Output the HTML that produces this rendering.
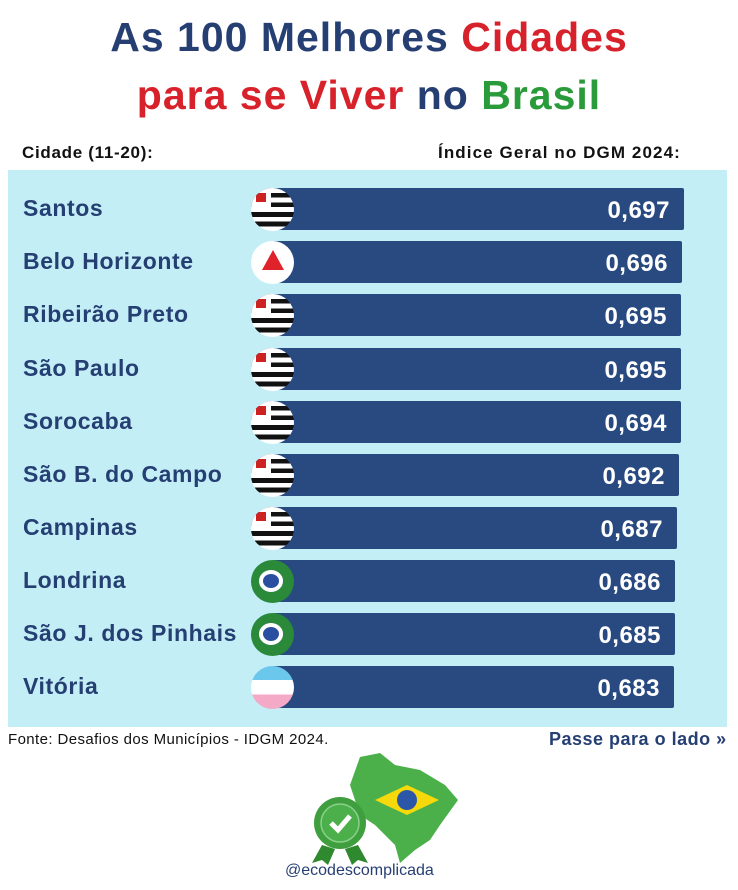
<!DOCTYPE html>
<html><head><meta charset="utf-8"><style>
body{margin:0;width:738px;height:890px;background:#fff;font-family:"Liberation Sans",sans-serif;position:relative;overflow:hidden}
.t{position:absolute;left:0;width:738px;text-align:center;font-weight:bold;font-size:41px;color:#263f73;letter-spacing:1px}
.r{color:#d8222b}.g{color:#2a9b3b}
.h{position:absolute;top:143px;font-weight:bold;font-size:17px;color:#111;letter-spacing:0.7px}
.panel{position:absolute;left:8px;top:170px;width:719px;height:557px;background:#c3eef6}
.row{position:absolute;left:0;width:738px;height:42px}
.name{position:absolute;left:23px;top:7px;font-weight:bold;font-size:23px;color:#263f73;letter-spacing:0.6px}
.bar{position:absolute;left:273px;top:0;height:42px;background:#284a80;border-radius:2px}
.val{position:absolute;right:14px;top:9px;font-weight:bold;font-size:24px;color:#fff;letter-spacing:0.5px}
.flag{position:absolute;left:251px;top:0;width:43px;height:43px;border-radius:50%;overflow:hidden}
.sp{background:repeating-linear-gradient(#fff 0 4.8px,#111 4.8px 9.6px)}
.sp:after{content:"";position:absolute;left:0;top:0;width:20px;height:19px;background:#c22;box-shadow:inset 0 0 0 5px #fff;}
.mg{background:#fff}
.mg:after{content:"";position:absolute;left:11px;top:9px;border-left:11px solid transparent;border-right:11px solid transparent;border-bottom:20px solid #e0222a}
.pr{background:#2a8a3a}
.pr:after{content:"";position:absolute;left:8px;top:10px;width:24px;height:22px;border-radius:50%;background:#fff;box-shadow:inset 0 0 0 4px #fff,inset 0 0 0 12px #2b4fa0}
.es{background:linear-gradient(#6cc7ec 0 33%,#fff 33% 66%,#f4a9c7 66%)}
</style></head><body>
<div class="t" style="top:14px">As 100 Melhores <span class="r">Cidades</span></div>
<div class="t" style="top:72px"><span class="r">para se Viver</span> no <span class="g">Brasil</span></div>
<div class="h" style="left:22px">Cidade (11-20):</div>
<div class="h" style="left:438px;letter-spacing:1.1px">Índice Geral no DGM 2024:</div>
<div class="panel"></div>

<div class="row" style="top:188px"><div class="name">Santos</div><div class="bar" style="width:411px"><div class="val">0,697</div></div><div class="flag sp"></div></div>
<div class="row" style="top:241px"><div class="name">Belo Horizonte</div><div class="bar" style="width:409px"><div class="val">0,696</div></div><div class="flag mg"></div></div>
<div class="row" style="top:294px"><div class="name">Ribeirão Preto</div><div class="bar" style="width:408px"><div class="val">0,695</div></div><div class="flag sp"></div></div>
<div class="row" style="top:348px"><div class="name">São Paulo</div><div class="bar" style="width:408px"><div class="val">0,695</div></div><div class="flag sp"></div></div>
<div class="row" style="top:401px"><div class="name">Sorocaba</div><div class="bar" style="width:408px"><div class="val">0,694</div></div><div class="flag sp"></div></div>
<div class="row" style="top:454px"><div class="name">São B. do Campo</div><div class="bar" style="width:406px"><div class="val">0,692</div></div><div class="flag sp"></div></div>
<div class="row" style="top:507px"><div class="name">Campinas</div><div class="bar" style="width:404px"><div class="val">0,687</div></div><div class="flag sp"></div></div>
<div class="row" style="top:560px"><div class="name">Londrina</div><div class="bar" style="width:402px"><div class="val">0,686</div></div><div class="flag pr"></div></div>
<div class="row" style="top:613px"><div class="name">São J. dos Pinhais</div><div class="bar" style="width:402px"><div class="val">0,685</div></div><div class="flag pr"></div></div>
<div class="row" style="top:666px"><div class="name">Vitória</div><div class="bar" style="width:401px"><div class="val">0,683</div></div><div class="flag es"></div></div>

<div style="position:absolute;left:8px;top:731px;font-size:15px;color:#111;letter-spacing:0.4px">Fonte: Desafios dos Municípios - IDGM 2024.</div>
<div style="position:absolute;left:549px;top:729px;font-size:18px;font-weight:bold;color:#263f73;letter-spacing:0.5px">Passe para o lado »</div>

<svg style="position:absolute;left:300px;top:745px" width="170" height="125">
<path d="M60 12 L80 8 L95 20 L120 25 L145 40 L158 55 L140 80 L130 95 L115 105 L100 118 L95 100 L85 90 L75 80 L60 70 L55 55 L50 40 Z" fill="#4cb04a"/>
<polygon points="75,55 107,40 139,55 107,70" fill="#f5d90a"/>
<circle cx="107" cy="55" r="10" fill="#2c57a8"/>
<circle cx="40" cy="78" r="26" fill="#3f9f3f"/>
<circle cx="40" cy="78" r="19" fill="#4cb04a" stroke="#8ad08a" stroke-width="1.5"/>
<path d="M31 78 L38 85 L50 71" stroke="#fff" stroke-width="5" fill="none"/>
<polygon points="22,100 12,118 22,115 28,120 35,104" fill="#2f8a2f"/>
<polygon points="58,100 68,118 58,115 52,120 45,104" fill="#2f8a2f"/>
</svg>
<div style="position:absolute;left:285px;top:862px;font-size:16px;color:#263f73">@ecodescomplicada</div>
</body></html>
